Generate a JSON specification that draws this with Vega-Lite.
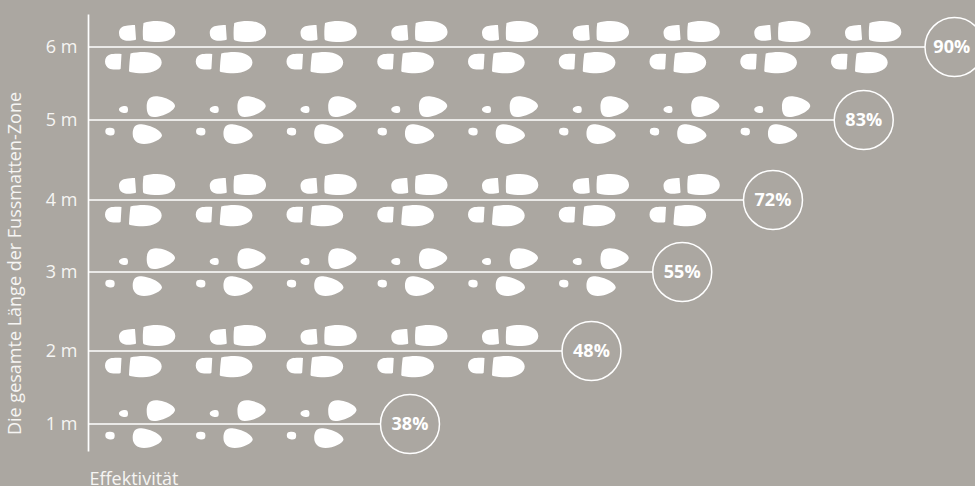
{
"$schema":"https://vega.github.io/schema/vega-lite/v6.json",
"width":887,"height":437,
"autosize":"none",
"padding":{"left":88,"top":14,"right":0,"bottom":35},
"background":"#aba7a1",
"config":{"view":{"stroke":null},"font":"Open Sans"},
"datasets":{
"reihen":[
{"laenge":1,"paare":3,"von":0.427,"bis":3.975,"textpos":3.975,"wert":"38%"},
{"laenge":2,"paare":5,"von":0.427,"bis":5.975,"textpos":5.975,"wert":"48%"},
{"laenge":3,"paare":6,"von":0.427,"bis":6.975,"textpos":6.975,"wert":"55%"},
{"laenge":4,"paare":7,"von":0.427,"bis":7.975,"textpos":7.975,"wert":"72%"},
{"laenge":5,"paare":8,"von":0.427,"bis":8.975,"textpos":8.975,"wert":"83%"},
{"laenge":6,"paare":9,"von":0.427,"bis":9.975,"textpos":9.945,"wert":"90%"}
],
"fuesse":[
{"laenge":1,"paar":1,"typ":"klein-oben"},{"laenge":1,"paar":1,"typ":"klein-unten"},{"laenge":1,"paar":2,"typ":"klein-oben"},{"laenge":1,"paar":2,"typ":"klein-unten"},{"laenge":1,"paar":3,"typ":"klein-oben"},{"laenge":1,"paar":3,"typ":"klein-unten"},
{"laenge":2,"paar":1,"typ":"voll-oben"},{"laenge":2,"paar":1,"typ":"voll-unten"},{"laenge":2,"paar":2,"typ":"voll-oben"},{"laenge":2,"paar":2,"typ":"voll-unten"},{"laenge":2,"paar":3,"typ":"voll-oben"},{"laenge":2,"paar":3,"typ":"voll-unten"},{"laenge":2,"paar":4,"typ":"voll-oben"},{"laenge":2,"paar":4,"typ":"voll-unten"},{"laenge":2,"paar":5,"typ":"voll-oben"},{"laenge":2,"paar":5,"typ":"voll-unten"},
{"laenge":3,"paar":1,"typ":"klein-oben"},{"laenge":3,"paar":1,"typ":"klein-unten"},{"laenge":3,"paar":2,"typ":"klein-oben"},{"laenge":3,"paar":2,"typ":"klein-unten"},{"laenge":3,"paar":3,"typ":"klein-oben"},{"laenge":3,"paar":3,"typ":"klein-unten"},{"laenge":3,"paar":4,"typ":"klein-oben"},{"laenge":3,"paar":4,"typ":"klein-unten"},{"laenge":3,"paar":5,"typ":"klein-oben"},{"laenge":3,"paar":5,"typ":"klein-unten"},{"laenge":3,"paar":6,"typ":"klein-oben"},{"laenge":3,"paar":6,"typ":"klein-unten"},
{"laenge":4,"paar":1,"typ":"voll-oben"},{"laenge":4,"paar":1,"typ":"voll-unten"},{"laenge":4,"paar":2,"typ":"voll-oben"},{"laenge":4,"paar":2,"typ":"voll-unten"},{"laenge":4,"paar":3,"typ":"voll-oben"},{"laenge":4,"paar":3,"typ":"voll-unten"},{"laenge":4,"paar":4,"typ":"voll-oben"},{"laenge":4,"paar":4,"typ":"voll-unten"},{"laenge":4,"paar":5,"typ":"voll-oben"},{"laenge":4,"paar":5,"typ":"voll-unten"},{"laenge":4,"paar":6,"typ":"voll-oben"},{"laenge":4,"paar":6,"typ":"voll-unten"},{"laenge":4,"paar":7,"typ":"voll-oben"},{"laenge":4,"paar":7,"typ":"voll-unten"},
{"laenge":5,"paar":1,"typ":"klein-oben"},{"laenge":5,"paar":1,"typ":"klein-unten"},{"laenge":5,"paar":2,"typ":"klein-oben"},{"laenge":5,"paar":2,"typ":"klein-unten"},{"laenge":5,"paar":3,"typ":"klein-oben"},{"laenge":5,"paar":3,"typ":"klein-unten"},{"laenge":5,"paar":4,"typ":"klein-oben"},{"laenge":5,"paar":4,"typ":"klein-unten"},{"laenge":5,"paar":5,"typ":"klein-oben"},{"laenge":5,"paar":5,"typ":"klein-unten"},{"laenge":5,"paar":6,"typ":"klein-oben"},{"laenge":5,"paar":6,"typ":"klein-unten"},{"laenge":5,"paar":7,"typ":"klein-oben"},{"laenge":5,"paar":7,"typ":"klein-unten"},{"laenge":5,"paar":8,"typ":"klein-oben"},{"laenge":5,"paar":8,"typ":"klein-unten"},
{"laenge":6,"paar":1,"typ":"voll-oben"},{"laenge":6,"paar":1,"typ":"voll-unten"},{"laenge":6,"paar":2,"typ":"voll-oben"},{"laenge":6,"paar":2,"typ":"voll-unten"},{"laenge":6,"paar":3,"typ":"voll-oben"},{"laenge":6,"paar":3,"typ":"voll-unten"},{"laenge":6,"paar":4,"typ":"voll-oben"},{"laenge":6,"paar":4,"typ":"voll-unten"},{"laenge":6,"paar":5,"typ":"voll-oben"},{"laenge":6,"paar":5,"typ":"voll-unten"},{"laenge":6,"paar":6,"typ":"voll-oben"},{"laenge":6,"paar":6,"typ":"voll-unten"},{"laenge":6,"paar":7,"typ":"voll-oben"},{"laenge":6,"paar":7,"typ":"voll-unten"},{"laenge":6,"paar":8,"typ":"voll-oben"},{"laenge":6,"paar":8,"typ":"voll-unten"},{"laenge":6,"paar":9,"typ":"voll-oben"},{"laenge":6,"paar":9,"typ":"voll-unten"}
]
},
"layer":[
{"data":{"name":"reihen"},
 "mark":{"type":"rule","color":"#ffffff","strokeWidth":1.7},
 "encoding":{
  "x":{"field":"von","type":"quantitative","scale":{"domain":[0.427,10.201],"nice":false,"zero":false},
   "axis":{"title":"Effektivität","labels":false,"ticks":false,"domain":false,"grid":false,"titleAnchor":"start","titleAlign":"left","titleX":1,"titleY":33,"titleFontSize":18,"titleFontWeight":"normal","titleColor":"#f6f5f3","titleBaseline":"alphabetic"}},
  "x2":{"field":"bis"},
  "y":{"field":"laenge","type":"quantitative","scale":{"domain":[0.63,1,2,3,4,5,6,6.45],"range":[437,410,337,258,186,106,33,0],"nice":false,"zero":false},
   "axis":{"title":"Die gesamte Länge der Fussmatten-Zone","values":[1,2,3,4,5,6],"labelExpr":"datum.value + ' m'","ticks":false,"grid":false,"domain":true,"domainColor":"#ffffff","domainWidth":1.7,"labelColor":"#f6f5f3","labelFontSize":18,"labelPadding":11,"titleColor":"#f6f5f3","titleFontSize":18,"titleFontWeight":"normal","titleX":-64,"titleY":249,"titleAnchor":"middle"}}
 }},
{"data":{"name":"fuesse"},
 "mark":{"type":"point","filled":true,"opacity":1,"size":4,"color":"#ffffff"},
 "encoding":{
  "x":{"field":"paar","type":"quantitative"},
  "y":{"field":"laenge","type":"quantitative"},
  "shape":{"field":"typ","type":"nominal","legend":null,"scale":{
   "domain":["voll-oben","voll-unten","klein-oben","klein-unten"],
   "range":[
    "M-5,-22 L-4,-8 C-4,-7 -5,-6.7 -8,-6.5 C-10,-6.2 -13,-6 -15,-6.5 C-19,-7.5 -21,-10 -21,-14 C-21,-18 -18.5,-20.5 -15,-21 C-11,-21.7 -8,-22 -5,-22 Z M3.5,-24 C8,-25.5 12,-26 17,-26 C27,-26 35.3,-22 35.3,-15 C35.3,-9 28,-5 19,-5 C13,-5 8,-5.5 4.5,-6.5 C3.5,-6.8 3,-7.5 3,-8.5 C2.7,-13 2.7,-19 3.5,-24 Z",
    "M-18.5,7 L-19.3,21.5 C-19.5,22.3 -20,22.5 -22,22.5 C-26,22.8 -29,22.5 -31,21.5 C-33.5,20 -35,17.5 -35,14.5 C-35,11 -33,8.5 -30,7.5 C-27,6.7 -22,6.7 -18.5,7 Z M-9.5,6.5 C-6,5.5 -1,5 4,5 C14,5 21.7,9.5 21.7,15.5 C21.7,22 13,26.3 3,26.3 C-2,26.3 -6,26 -10,25 C-10.7,24.8 -11,24.5 -11,24 C-10.7,18 -10.3,12 -9.5,6.5 Z",
    "M-15,-14 C-13,-14 -12,-13 -12,-10.5 C-12,-8 -12.5,-7 -15,-7 C-18,-7 -21,-8.5 -21,-10.5 C-21,-12.5 -18,-14 -15,-14 Z M6.7,-13 C6.7,-18 8,-23.7 16,-23.7 C23,-23.7 35,-19 35,-14 C35,-10 24,-3 14,-3 C8,-3 6.7,-8 6.7,-13 Z",
    "M-32,8 C-28,7.6 -25.3,8 -25.3,11.5 C-25.3,15 -27,15.6 -30,15.4 C-33,15.2 -34.7,14 -34.7,11.5 C-34.7,9.5 -34,8.2 -32,8 Z M-7.3,14 C-7.3,8 -5,4.3 0,4.3 C8,4.3 22,10 22,15.5 C22,19 12,24 4,24 C-3,24 -7.3,20 -7.3,14 Z"
   ]}}
 }},
{"data":{"name":"reihen"},
 "mark":{"type":"point","shape":"circle","size":3481,"filled":true,"fill":"#aba7a1","stroke":"#ffffff","strokeWidth":1.5,"opacity":1},
 "encoding":{
  "x":{"field":"bis","type":"quantitative"},
  "y":{"field":"laenge","type":"quantitative"}
 }},
{"data":{"name":"reihen"},
 "mark":{"type":"text","color":"#ffffff","fontSize":18,"fontWeight":"bold","baseline":"middle","align":"center","dy":1},
 "encoding":{
  "x":{"field":"textpos","type":"quantitative"},
  "y":{"field":"laenge","type":"quantitative"},
  "text":{"field":"wert","type":"nominal"}
 }}
]
}
